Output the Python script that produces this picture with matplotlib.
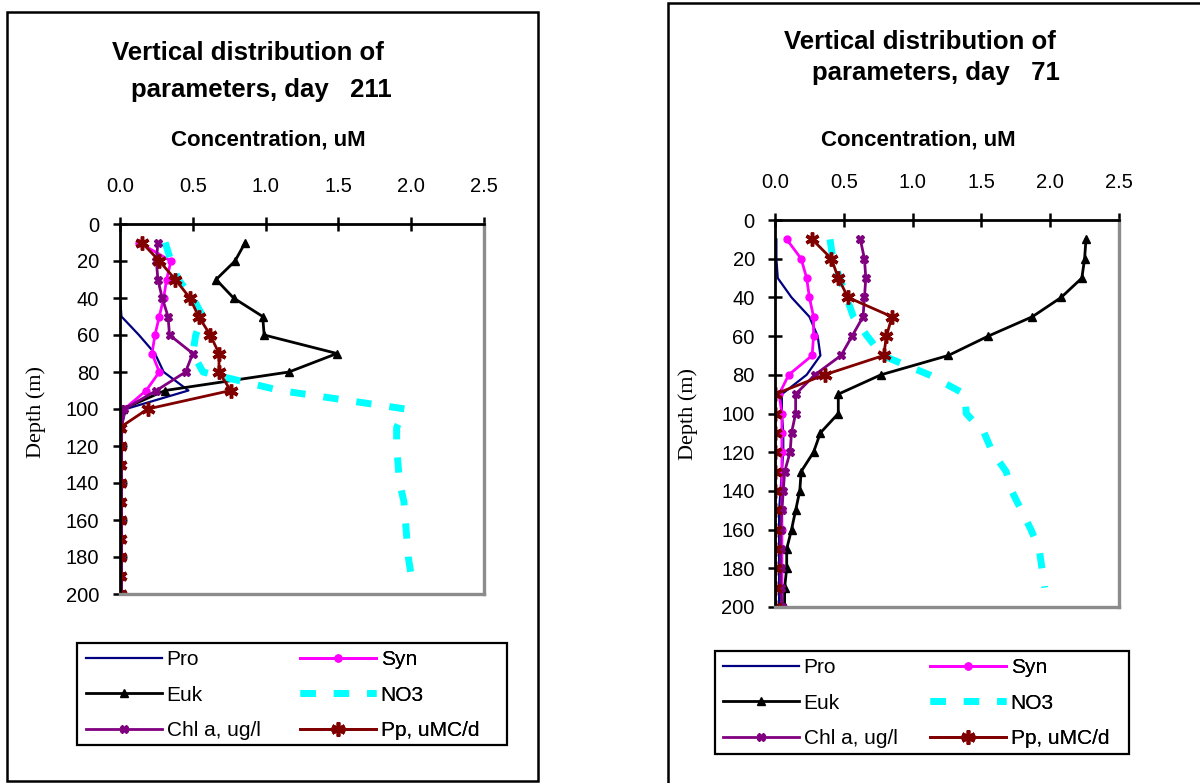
import matplotlib
matplotlib.use("Agg")
import matplotlib.pyplot as plt
from matplotlib.patches import Rectangle

# ---------------- data ----------------
depth = [10, 20, 30, 40, 50, 60, 70, 80, 90, 100,
         110, 120, 130, 140, 150, 160, 170, 180, 190, 200]
depth_no3 = [10, 20, 30, 40, 50, 60, 70, 80, 90, 100,
             110, 120, 130, 140, 150, 160, 170, 180, 190]

# day 211
pro_211 = [0.0, 0.0, 0.0, 0.0, 0.01, 0.13, 0.24, 0.30, 0.47, 0.04,
           0.01, 0.01, 0.01, 0.01, 0.01, 0.01, 0.01, 0.01, 0.01, 0.01]
syn_211 = [0.13, 0.35, 0.32, 0.30, 0.27, 0.24, 0.22, 0.27, 0.18, 0.03,
           0.01, 0.01, 0.01, 0.01, 0.01, 0.01, 0.01, 0.01, 0.01, 0.01]
euk_211 = [0.86, 0.79, 0.66, 0.78, 0.98, 0.99, 1.49, 1.16, 0.31, 0.02,
           0.01, 0.01, 0.01, 0.01, 0.01, 0.01, 0.01, 0.01, 0.01, 0.01]
no3_211 = [0.31, 0.35, 0.40, 0.50, 0.57, 0.52, 0.50, 0.57, 1.10, 1.96,
           1.90, 1.90, 1.91, 1.92, 1.95, 1.96, 1.97, 1.98, 2.00]
chl_211 = [0.26, 0.25, 0.26, 0.29, 0.33, 0.34, 0.50, 0.45, 0.25, 0.03,
           0.01, 0.01, 0.01, 0.01, 0.01, 0.01, 0.01, 0.01, 0.01, 0.01]
pp_211 = [0.15, 0.27, 0.38, 0.48, 0.54, 0.62, 0.68, 0.68, 0.76, 0.19,
          0.0, 0.0, 0.0, 0.0, 0.0, 0.0, 0.0, 0.0, 0.0, 0.0]

# day 71
pro_71 = [0.01, 0.01, 0.02, 0.12, 0.25, 0.31, 0.33, 0.23, 0.05, 0.05,
          0.06, 0.06, 0.05, 0.04, 0.03, 0.03, 0.03, 0.03, 0.03, 0.03]
syn_71 = [0.085, 0.19, 0.23, 0.25, 0.28, 0.28, 0.27, 0.10, 0.03, 0.05,
          0.05, 0.05, 0.05, 0.05, 0.05, 0.05, 0.05, 0.05, 0.05, 0.05]
euk_71 = [2.26, 2.25, 2.23, 2.08, 1.87, 1.55, 1.26, 0.77, 0.46, 0.46,
          0.33, 0.28, 0.19, 0.18, 0.15, 0.12, 0.085, 0.085, 0.07, 0.07]
no3_71 = [0.40, 0.42, 0.47, 0.52, 0.57, 0.67, 0.78, 1.12, 1.38, 1.39,
          1.52, 1.58, 1.68, 1.72, 1.79, 1.86, 1.92, 1.94, 1.96]
chl_71 = [0.62, 0.65, 0.66, 0.65, 0.64, 0.56, 0.48, 0.29, 0.15, 0.15,
          0.12, 0.11, 0.07, 0.06, 0.05, 0.04, 0.04, 0.04, 0.04, 0.05]
pp_71 = [0.27, 0.41, 0.46, 0.53, 0.85, 0.81, 0.79, 0.36, 0.0, 0.0,
         0.0, 0.0, 0.0, 0.0, 0.0, 0.0, 0.0, 0.0, 0.0, 0.0]

series_names = ["Pro", "Syn", "Euk", "NO3", "Chl a, ug/l", "Pp, uMC/d"]
x_ticks = [0.0, 0.5, 1.0, 1.5, 2.0, 2.5]
y_ticks = [0, 20, 40, 60, 80, 100, 120, 140, 160, 180, 200]

# ---------------- figure ----------------
W, H = 1200, 783
fig = plt.figure(figsize=(W / 100, H / 100), dpi=100)
SANS = ["Liberation Sans", "DejaVu Sans"]
SERIF = ["Liberation Serif", "DejaVu Serif"]
LEG_FS = 15


def fx(x):
    return x / W


def fy(y):
    return 1 - y / H


def add_rect(x0, y0, x1, y1, lw=1.6):
    fig.patches.append(Rectangle((fx(x0), fy(y1)), fx(x1) - fx(x0), fy(y0) - fy(y1),
                                 transform=fig.transFigure, fill=False,
                                 edgecolor="black", linewidth=lw, zorder=0))


def column_legend(ax, handles, labels, x, y_top):
    leg = ax.legend(handles, labels, loc="upper left",
                    bbox_to_anchor=(fx(x), fy(y_top)), bbox_transform=fig.transFigure,
                    borderaxespad=0, borderpad=0, frameon=False,
                    handlelength=3.65, handletextpad=0.22, labelspacing=0.8,
                    prop={"family": SANS, "size": LEG_FS})
    for lh in leg.get_lines():
        if lh.get_marker() not in (None, "None", ""):
            lh.set_markevery([1])
    ax.add_artist(leg)
    return leg


def panel(box, data, legend_box, legend_cols, titles, conc_xy, depth_xy, ypad):
    l, t, r, b = box
    ax = fig.add_axes([fx(l), fy(b), fx(r) - fx(l), fy(t) - fy(b)])
    pro, syn, euk, no3, chl, pp = data
    h_pro, = ax.plot(pro, depth, color="#000080", lw=1.6)
    h_syn, = ax.plot(syn, depth, color="#FF00FF", lw=2.0, marker="o", ms=5)
    h_euk, = ax.plot(euk, depth, color="black", lw=2.0, marker="^", ms=5.5)
    h_no3, = ax.plot(no3, depth_no3, color="#00FFFF", lw=5, linestyle=(0, (2.2, 2.6)))
    h_chl, = ax.plot(chl, depth, color="#800080", lw=2.0, marker="X", ms=5.5)
    h_pp, = ax.plot(pp, depth, color="#800000", lw=2.0, marker=(6, 2, 0), ms=10, mew=2.5)

    ax.set_xlim(0, 2.5)
    ax.set_ylim(200, 0)
    ax.xaxis.tick_top()
    ax.set_xticks(x_ticks)
    ax.set_xticklabels([f"{v:.1f}" for v in x_ticks], family=SANS)
    ax.set_yticks(y_ticks)
    ax.set_yticklabels([str(v) for v in y_ticks], family=SANS)
    ax.tick_params(axis="x", direction="inout", length=10, width=1.8, labelsize=14.5, pad=15)
    ax.tick_params(axis="y", direction="inout", length=10, width=1.8, labelsize=14.5, pad=ypad)
    ax.spines["top"].set_linewidth(2.0)
    ax.spines["left"].set_linewidth(2.0)
    for s in ("right", "bottom"):
        ax.spines[s].set_color("#8c8c8c")
        ax.spines[s].set_linewidth(2.4)

    (t1, t1xy), (t2, t2xy) = titles
    fig.text(fx(t1xy[0]), fy(t1xy[1]), t1, ha="center", va="center",
             fontsize=18.5, fontweight="bold", family=SANS)
    fig.text(fx(t2xy[0]), fy(t2xy[1]), t2, ha="center", va="center",
             fontsize=18.5, fontweight="bold", family=SANS)
    fig.text(fx(conc_xy[0]), fy(conc_xy[1]), "Concentration, uM", ha="center", va="center",
             fontsize=16, fontweight="bold", family=SANS)
    fig.text(fx(depth_xy[0]), fy(depth_xy[1]), "Depth (m)", ha="center", va="center",
             rotation=90, fontsize=16, family=SERIF)

    # legend: box + two columns
    lx0, ly0, lx1, ly1 = legend_box
    add_rect(lx0, ly0, lx1, ly1, lw=1.6)
    c1x, c2x, ytop = legend_cols
    column_legend(ax, [h_pro, h_euk, h_chl],
                  [series_names[0], series_names[2], series_names[4]], c1x, ytop)
    column_legend(ax, [h_syn, h_no3, h_pp],
                  [series_names[1], series_names[3], series_names[5]], c2x, ytop)
    return ax


# outer chart frames
add_rect(7, 12, 538, 781, lw=1.8)
add_rect(668, 3, 1210, 795, lw=1.8)

panel((120, 224, 484, 594),
      (pro_211, syn_211, euk_211, no3_211, chl_211, pp_211),
      (77, 643, 507, 745), (86, 300, 650),
      (("Vertical distribution of", (248, 53)), ("parameters, day   211", (261, 90))),
      (268, 140), (36, 412), 10)

panel((775, 220, 1119, 607),
      (pro_71, syn_71, euk_71, no3_71, chl_71, pp_71),
      (715, 651, 1129, 754), (723, 930, 658),
      (("Vertical distribution of", (920, 42)), ("parameters, day   71", (936, 73))),
      (918, 140), (688, 414), 9.5)

fig.savefig("out.png", dpi=100)
